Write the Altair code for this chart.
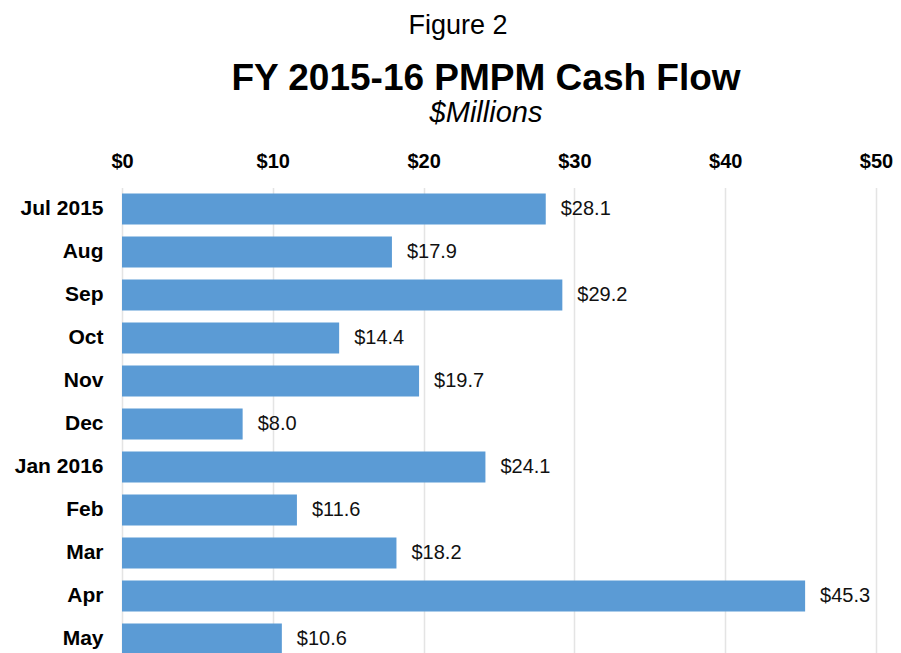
import altair as alt
import pandas as pd

months = ["Jul 2015", "Aug", "Sep", "Oct", "Nov", "Dec", "Jan 2016", "Feb", "Mar", "Apr", "May"]
values = [28.1, 17.9, 29.2, 14.4, 19.7, 8.0, 24.1, 11.6, 18.2, 45.3, 10.6]
x_ticks = [0, 10, 20, 30, 40, 50]

figure_label = "Figure 2"
title_text = "FY 2015-16 PMPM Cash Flow"
subtitle_text = "$Millions"

df = pd.DataFrame({"month": months, "value": values})

FONT = "Liberation Sans"
BLUE = "#5B9BD5"

x_enc = alt.X(
    "value:Q",
    scale=alt.Scale(domain=[0, 50], nice=False),
    axis=alt.Axis(
        orient="top", values=x_ticks, format="$d", title=None,
        domain=False, ticks=False, labelFont=FONT, labelFontSize=20,
        labelFontWeight="bold", labelColor="#000000", labelPadding=16,
        labelFlush=False, labelOverlap=False,
        grid=True, gridColor="#E4E4E4", gridWidth=1.5,
    ),
)
y_enc = alt.Y(
    "month:N", sort=months,
    scale=alt.Scale(paddingInner=0.28, paddingOuter=0.14),
    axis=alt.Axis(
        title=None, domain=False, ticks=False, labelFont=FONT,
        labelFontSize=21, labelFontWeight="bold", labelColor="#000000",
        labelPadding=19,
    ),
)

base = alt.Chart(df)
bars = base.mark_bar(color=BLUE).encode(x=x_enc, y=y_enc)
labels = base.mark_text(
    align="left", baseline="middle", dx=15, font=FONT, fontSize=20, color="#111111"
).encode(x="value:Q", y=alt.Y("month:N", sort=months), text=alt.Text("value:Q", format="$.1f"))

fig = alt.Chart(pd.DataFrame({"t": [figure_label]})).mark_text(
    align="center", baseline="alphabetic", font=FONT, fontSize=27, color="#000000"
).encode(text="t:N", x=alt.value(336), y=alt.value(-153.5))

ttl = alt.Chart(pd.DataFrame({"t": [title_text]})).mark_text(
    align="center", baseline="alphabetic", font=FONT, fontSize=37,
    fontWeight="bold", color="#000000"
).encode(text="t:N", x=alt.value(364), y=alt.value(-97.5))

sub = alt.Chart(pd.DataFrame({"t": [subtitle_text]})).mark_text(
    align="center", baseline="alphabetic", font=FONT, fontSize=29,
    fontStyle="italic", color="#000000"
).encode(text="t:N", x=alt.value(364), y=alt.value(-65.5))

chart = alt.layer(bars, labels, fig, ttl, sub).properties(
    width=754,
    height=473,
    autosize=alt.AutoSizeParams(type="none"),
    padding={"left": 114, "top": 179.5, "right": 17, "bottom": 0},
).configure_view(stroke=None)

chart.save("out.html", embed_options={"renderer": "svg", "actions": False})
